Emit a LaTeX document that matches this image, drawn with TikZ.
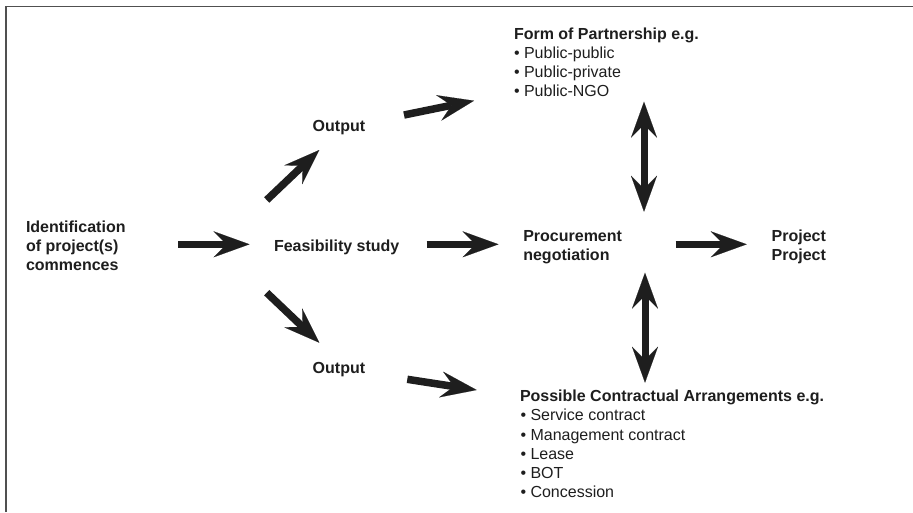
\documentclass[tikz,border=0pt]{standalone}
\usepackage{fontspec}
\setmainfont{Liberation Sans}
\usetikzlibrary{arrows.meta}
\definecolor{ink}{HTML}{1E1E1E}
\definecolor{framec}{HTML}{505050}
\tikzset{
  txt/.style={anchor=base west, inner sep=0pt, outer sep=0pt, align=left, text=ink,
    font=\fontsize{16pt}{19.2pt}\selectfont},
  btxt/.style={txt, font=\fontsize{16pt}{19.2pt}\selectfont\bfseries},
  fat/.style={draw=ink, line width=7.5pt,
    -{Stealth[length=36pt, width=26pt, inset=13pt, line width=0.1pt]}},
  fatboth/.style={draw=ink, line width=7pt,
    {Stealth[length=36pt, width=26pt, inset=13pt, line width=0.1pt]}-{Stealth[length=36pt, width=26pt, inset=13pt, line width=0.1pt]}},
  framel/.style={draw=framec, line width=1.6pt}
}
\begin{document}
\begin{tikzpicture}[x=1pt, y=-1pt]
\useasboundingbox (0,0) rectangle (913,512);
\draw[framel] (6,512) -- (6,6.5) -- (913,6.5);

% multi-line nodes: base anchor sits on the last line
\node[btxt] (ident) at (26,270.6) {Identification\\of project(s)\\commences};
\node[btxt] (feas) at (274,251.7) {Feasibility study};
\node[btxt] (out1) at (312.7,131.7) {Output};
\node[btxt] (out2) at (312.7,373.3) {Output};
\node[btxt] (proc) at (523.3,260.6) {Procurement\\negotiation};
\node[btxt] (proj) at (771.7,260.6) {Project\\Project};
\node[btxt] (formh) at (514,39.3) {Form of Partnership e.g.};
\node[txt] (forml) at (514,96.9) {• Public-public\\• Public-private\\• Public-NGO};
\node[btxt] (possh) at (520,401.7) {Possible Contractual Arrangements e.g.};
\node[txt] (possl) at (520.5,497.7) {• Service contract\\• Management contract\\• Lease\\• BOT\\• Concession};

\coordinate (a1s) at (178,244.3); \coordinate (a1e) at (249.5,244.3);
\coordinate (a2s) at (426.5,244.3); \coordinate (a2e) at (498.5,244.3);
\coordinate (a3s) at (675.5,244.3); \coordinate (a3e) at (746.7,244.3);
\coordinate (a4s) at (266.7,200); \coordinate (a4e) at (319.3,150);
\coordinate (a5s) at (404,115); \coordinate (a5e) at (474,100.7);
\coordinate (a6s) at (266.7,292.7); \coordinate (a6e) at (319.3,342.7);
\coordinate (a7s) at (407.3,379.3); \coordinate (a7e) at (476.7,390);
\coordinate (a8s) at (644,101.7); \coordinate (a8e) at (644,211.7);
\coordinate (a9s) at (645,272.7); \coordinate (a9e) at (645,382.7);

\draw[fat] (a1s) -- (a1e);
\draw[fat] (a2s) -- (a2e);
\draw[fat] (a3s) -- (a3e);
\draw[fat] (a4s) -- (a4e);
\draw[fat] (a5s) -- (a5e);
\draw[fat] (a6s) -- (a6e);
\draw[fat] (a7s) -- (a7e);
\draw[fatboth] (a8s) -- (a8e);
\draw[fatboth] (a9s) -- (a9e);
\end{tikzpicture}
\end{document}
